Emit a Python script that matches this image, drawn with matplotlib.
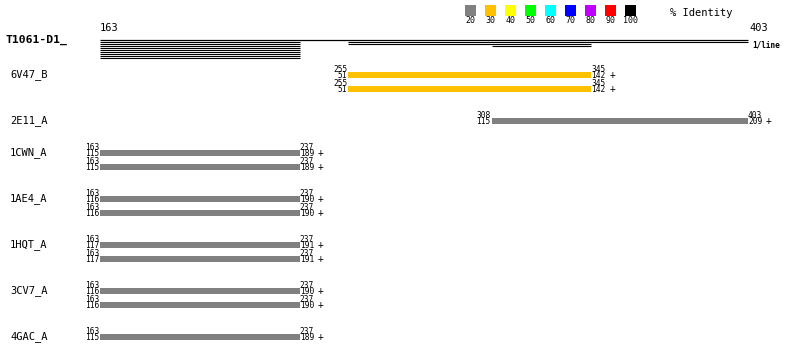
import matplotlib
matplotlib.use("Agg")
import matplotlib.pyplot as plt
import matplotlib.transforms as mtransforms
import numpy as np

# query
query_name = "T1061-D1_"
query_start, query_end = 163, 403

# hits (one entry per alignment)
hit_names = ["6V47_B", "6V47_B", "2E11_A", "1CWN_A", "1CWN_A", "1AE4_A", "1AE4_A",
             "1HQT_A", "1HQT_A", "3CV7_A", "3CV7_A", "4GAC_A"]
q_from = [255, 255, 308, 163, 163, 163, 163, 163, 163, 163, 163, 163]
q_to = [345, 345, 403, 237, 237, 237, 237, 237, 237, 237, 237, 237]
t_from = [51, 51, 115, 115, 115, 116, 116, 117, 117, 116, 116, 115]
t_to = [142, 142, 209, 189, 189, 190, 190, 191, 191, 190, 190, 189]
identity = [30, 30, 20, 20, 20, 20, 20, 20, 20, 20, 20, 20]

id_bins = [20, 30, 40, 50, 60, 70, 80, 90, 100]
id_colors = ["#808080", "#ffc000", "#ffff00", "#00ff00", "#00ffff",
             "#0000ff", "#c000ff", "#ff0000", "#000000"]

W, H = 800, 354
PX = 2.7          # pixels per residue
X0 = 100          # pixel x of query start
mono = "DejaVu Sans Mono"

fig = plt.figure(figsize=(W / 100, H / 100), dpi=100)
# layout axes in pixels
lay = fig.add_axes([0, 0, 1, 1])
lay.set_xlim(0, W)
lay.set_ylim(H, 0)
lay.axis("off")
# data axes: x in residues, y in pixels
ax = fig.add_axes([0, 0, 1, 1])
ax.set_xlim(query_start - X0 / PX, query_start + (W - X0) / PX)
ax.set_ylim(H, 0)
ax.axis("off")
ax.patch.set_visible(False)

def shifted(dx, dy=0):
    return mtransforms.offset_copy(ax.transData, fig=fig, x=dx, y=-dy, units="dots")

# header
lay.text(5, 43, query_name, fontfamily=mono, fontweight="bold", fontsize=8.2, va="baseline")
ax.text(query_start, 31, str(query_start), fontfamily=mono, fontsize=7.5, va="baseline")
ax.text(query_end, 31, str(query_end), transform=shifted(1), fontfamily=mono, fontsize=7.5, va="baseline")
ax.hlines(40, query_start, query_end, color="black", lw=0.9)
ax.text(query_end, 47, "1/line", transform=shifted(4), fontfamily=mono, fontweight="bold",
        fontsize=5.6, va="baseline")

# coverage lines (depth of hits per residue)
res = np.arange(query_start, query_end + 1)
depth = np.zeros(len(res), dtype=int)
for a, b in zip(q_from, q_to):
    depth += (res >= a) & (res <= b)
for k in range(1, depth.max() + 1):
    m = np.concatenate([[0], (depth >= k).astype(int), [0]])
    d = np.diff(m)
    starts = np.where(d == 1)[0]
    ends = np.where(d == -1)[0] - 1
    for s, e in zip(starts, ends):
        ax.hlines(40 + 2 * k, res[s], res[e], color="black", lw=0.8)

# legend
for i, (b, c) in enumerate(zip(id_bins, id_colors)):
    x = 465 + 20 * i
    lay.add_patch(plt.Rectangle((x, 5), 11, 11, color=c, lw=0))
    lay.text(x + 5.5, 23, str(b), fontfamily=mono, fontsize=6, ha="center", va="baseline")
lay.text(670, 16.5, "% Identity", fontfamily=mono, fontsize=7.5, va="baseline")

# hits
y = 75
for i in range(len(hit_names)):
    if i > 0:
        y += 14 if hit_names[i] == hit_names[i - 1] else 32
    if i == 0 or hit_names[i] != hit_names[i - 1]:
        lay.text(10, y + 2, hit_names[i], fontfamily=mono, fontsize=7.5, va="baseline")
    col = id_colors[id_bins.index(identity[i])]
    ax.barh(y, q_to[i] - q_from[i], left=q_from[i], height=6, color=col, lw=0)
    ax.text(q_from[i], y - 3.2, str(q_from[i]), transform=shifted(-1), fontfamily=mono,
            fontsize=5.7, ha="right", va="baseline")
    ax.text(q_from[i], y + 2.6, str(t_from[i]), transform=shifted(-1), fontfamily=mono,
            fontsize=5.7, ha="right", va="baseline")
    ax.text(q_to[i], y - 3.2, str(q_to[i]), transform=shifted(0), fontfamily=mono,
            fontsize=5.7, ha="left", va="baseline")
    ax.text(q_to[i], y + 2.6, str(t_to[i]), transform=shifted(0), fontfamily=mono,
            fontsize=5.7, ha="left", va="baseline")
    ax.text(q_to[i], y + 2.6, "+", transform=shifted(18), fontfamily=mono,
            fontsize=7, ha="left", va="baseline")

fig.savefig("out.png", dpi=100)
